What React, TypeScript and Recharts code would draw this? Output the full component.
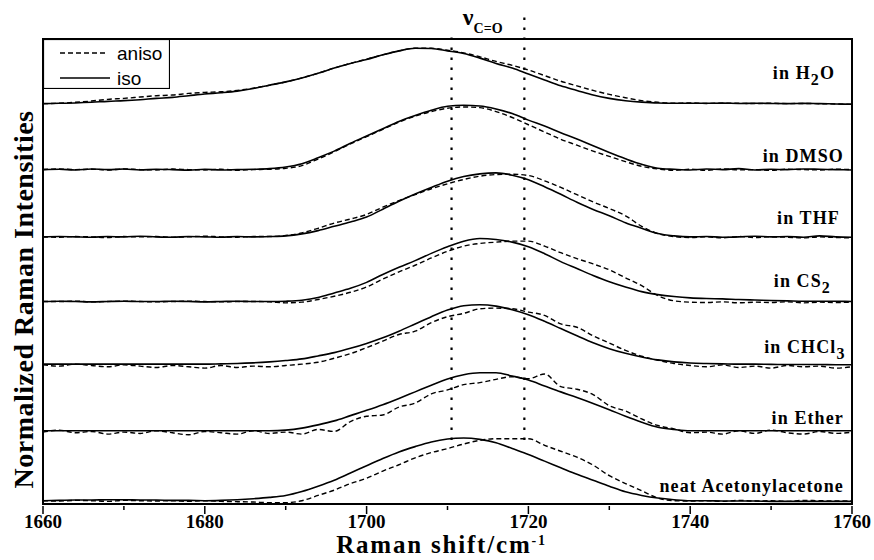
import {
  LineChart,
  Line,
  XAxis,
  YAxis,
  ReferenceLine,
  ReferenceArea,
  ReferenceDot,
  Legend,
} from 'recharts'

// Raman shift grid (cm-1)
const shift = [
  1660, 1662, 1664, 1666, 1668, 1670, 1672, 1674, 1676, 1678,
  1680, 1682, 1684, 1686, 1688, 1690, 1692, 1694, 1696, 1698,
  1700, 1702, 1704, 1706, 1708, 1710, 1712, 1714, 1716, 1718,
  1720, 1722, 1724, 1726, 1728, 1730, 1732, 1734, 1736, 1738,
  1740, 1742, 1744, 1746, 1748, 1750, 1752, 1754, 1756, 1758,
  1760,
]
const shiftTicks = [1660, 1670, 1680, 1690, 1700, 1710, 1720, 1730, 1740, 1750, 1760]

// normalized intensities, each trace relative to its own baseline
const h2oIso = [0, 0.5, 1, 2, 3.5, 4.5, 6, 8, 9.5, 12, 14.5, 16.5, 19, 23, 28, 33, 39, 46, 54, 61, 67, 74, 80, 84, 83.5, 80, 76, 69, 61, 54, 45, 36, 27, 20, 13, 8, 4.5, 2.3, 1, 0.7, 0.7, 0.5, 0.8, 0.3, 0.6, 0.3, 0, 0.4, 0, -0.5, -1]
const h2oAniso = [0, 0.5, 2, 4, 6.5, 8, 10, 12, 13, 15.5, 17, 18, 20, 23.5, 28, 33, 39, 46, 54, 61, 67.5, 74, 80, 84, 84, 81, 77, 71, 64, 58, 51, 42.5, 34, 27, 20, 14, 9, 4.5, 2, 0.7, 1, 0.3, 0.8, 0.5, 0.2, 0.6, 0, 0.3, -0.2, -0.5, -1]
const dmsoIso = [0, 0.5, -0.5, 1, 0, 0.8, -0.5, 0.5, 0, -0.8, 0.5, -0.5, 0, 0.5, 1.5, 4, 9, 18, 28, 40, 51, 62, 73, 82, 90, 96, 97.5, 96.5, 92, 85, 75, 66, 56, 46.5, 36, 26, 16.5, 8, 2, 0.5, -0.5, 1, 0, 1.5, -0.5, 0.5, 0, 1, 0.5, 0, -0.5]
const dmsoAniso = [0, 1, 0, 0.5, -0.5, 1, 0, -0.5, 0.8, 0, -0.5, 0.5, -1, 0, 0.5, 2, 6, 16, 27, 39, 50, 61, 72, 81, 88, 93, 95, 94, 88, 79, 68, 57, 46, 37, 28, 20, 12, 5, 1, -1, 0.5, -1, 1, -0.5, 0, -1, 0.5, 0, -0.5, 0.5, 0]
const thfIso = [0, 0.5, 0, -0.5, 0.5, 0, 1, 0, -0.5, 0.5, 0, -0.5, 0.5, 0, 0.5, 1.5, 4.5, 9.5, 16, 22.5, 30, 42, 54, 65, 75, 84.5, 91.5, 95.5, 97, 93.5, 86.5, 76, 64.5, 52.5, 41.5, 32, 21.5, 13, 5, 1.5, 0, 0.5, -0.5, 0, 1, 0, 0.5, -0.5, 1.5, 0, -0.5]
const thfAniso = [0, -0.5, 0.5, 0, -1, 0.5, 0, 0.5, -0.5, 0, 1, 0, -0.5, 0.5, 0.5, 2, 6, 13, 21, 27, 34, 45, 55, 64, 73, 80.5, 87, 92, 94.5, 95, 93, 85, 75, 64, 53, 43, 32, 16, 5, 0.5, -1, 0, -1.5, 0.5, -1, 0, -0.5, -1.5, 0, -1, -1.5]
const cs2Iso = [0, 0.5, 0, -0.5, 0, 0.5, 0, 0, 0.5, 0, -0.5, 0, 0.5, 0, 0, 0.5, 2, 6, 13, 20, 29, 41, 52, 62, 73, 83, 91.5, 95.5, 94, 90, 83, 72.5, 60.5, 50, 39.5, 30, 22, 15, 10.5, 7.5, 5.5, 4.5, 4, 3, 2.3, 1.5, 1, 0.5, 0.5, 0.3, 0]
const cs2Aniso = [0, 0, 0.5, -0.5, 0, 0.5, 0, -0.5, 0, 0.5, 0, -0.5, 0, 0, -0.5, -2, -1, 3, 8, 14, 22, 34, 45, 55, 66, 76, 84, 88, 90, 91.5, 91.5, 84, 74, 65, 57, 48, 36, 24, 9, 1, -1, -1.5, -0.5, -2, -1, -1.5, -0.5, -2, -1, -1.5, -1]
const chcl3Iso = [0, 0, 0, 0, 0, 0, 0, 0, 0, 0, 0, 0.5, 1, 2, 3.5, 5.5, 8, 12.5, 17.5, 24, 31.5, 40, 50, 61, 72, 82, 88.5, 90, 88, 82.5, 75, 65, 54, 43, 32.5, 23.5, 16.5, 11, 6.5, 3.5, 1.8, 1, 0.5, 0, 0, -0.3, -0.5, -0.5, -0.6, -0.8, -0.8]
const chcl3Aniso = [-1, -3, 0, -2, -4, -1, -3, -5, -2, -4, -6, -2, -5, -3, -4, -2, 0, 3, 9, 16, 25, 35, 45, 50, 63, 72, 77, 84, 85, 84, 79, 74, 61, 56, 43, 32, 21, 12, 6, 1, -2, -4, -1, -5, -3, -6, -2, -4, -3, -6, -4]
const etherIso = [0, 0, 0, 0, 0, 0, 0, 0, 0, 0, 0, 0, 0, 0, 0, 1, 4, 9, 15, 23, 31, 39.5, 49, 59, 69, 78.5, 85, 88, 88, 83, 77, 68, 59, 50.5, 41.5, 32, 22, 13, 5.5, 2, 0, 0, 0, 0, 0, 0, 0, 0, 0, 0, 0]
const etherAniso = [-2, 1, -3, -1, -5, -2, -4, 0, -3, -6, -1, -3, -5, 0, -4, -2, -5, 2, -1, 14, 22, 24, 36, 42, 56, 62, 70, 73, 78, 82, 79, 86, 67, 63, 55, 38, 30, 18, 8, 3, -3, -2, -5, 0, -4, 1, -3, -5, -1, -4, -2]
const neatIso = [0, 0.5, 1, 1, 1.5, 1.5, 1, 1, 0.5, 0.5, 0, 0.5, 1.5, 3, 5, 8, 14, 22, 31, 42, 53, 64, 74, 82, 89, 93.5, 95, 93, 88, 79, 70, 60, 50, 40, 31, 22, 13.5, 8, 4, 1.5, 0, 0, -0.5, -0.5, -0.5, -1, -1, -1, -1, -1, -1]
const neatAniso = [0, -0.5, 0.5, 0, -1, 0.5, 0, -0.5, 0, -1, 0, -1, -1.5, -2, -3, -3, 0, 8, 16, 26, 34, 45, 54.5, 65, 73, 79, 86, 91.5, 94, 94, 94, 84, 75, 66, 54, 38, 26, 15, 4, 0, -0.5, 0, -1, 0.5, -0.5, 0, -1, 0.5, 0, -0.5, 0]

// vertical stacking offsets of the traces
const offsets = [602, 502, 400, 302, 207, 106, 0]

// sample labels: [text, isSubscript]
const sampleLabels: [string, boolean][][] = [
  [['in H', false], ['2', true], ['O', false]],
  [['in DMSO', false]],
  [['in THF', false]],
  [['in CS', false], ['2', true]],
  [['in CHCl', false], ['3', true]],
  [['in Ether', false]],
  [['neat Acetonylacetone', false]],
]
const labelAnchors = [
  { x: 1757.9, dy: 38 },
  { x: 1759.0, dy: 12 },
  { x: 1758.5, dy: 19 },
  { x: 1757.4, dy: 22 },
  { x: 1759.2, dy: 16.5 },
  { x: 1759.0, dy: 11 },
  { x: 1759.0, dy: 13.6 },
]

const carbonylLines = [1710.5, 1719.5]

const samples = [
  { key: 'h2o', iso: h2oIso, aniso: h2oAniso },
  { key: 'dmso', iso: dmsoIso, aniso: dmsoAniso },
  { key: 'thf', iso: thfIso, aniso: thfAniso },
  { key: 'cs2', iso: cs2Iso, aniso: cs2Aniso },
  { key: 'chcl3', iso: chcl3Iso, aniso: chcl3Aniso },
  { key: 'ether', iso: etherIso, aniso: etherAniso },
  { key: 'neat', iso: neatIso, aniso: neatAniso },
]

const data = shift.map((x, i) => {
  const row: Record<string, number> = { shift: x }
  samples.forEach((s, k) => {
    row[s.key + 'Iso'] = offsets[k] + s.iso[i]
    row[s.key + 'Aniso'] = offsets[k] + s.aniso[i]
  })
  return row
})

const serif = "'Liberation Serif', 'Times New Roman', serif"
const sans = "'Liberation Sans', Arial, sans-serif"

function ShiftTick(props: any) {
  const { x, y, payload } = props
  const major = payload.value % 20 === 0
  return (
    <g>
      <line x1={x} y1={y} x2={x} y2={y + (major ? 8 : 4)} stroke='#000' strokeWidth={1.5} />
      {major && (
        <text x={x} y={y + 22} textAnchor='middle' fontFamily={serif} fontWeight='bold' fontSize={19} fill='#000'>
          {payload.value}
        </text>
      )}
    </g>
  )
}

function SampleLabel({ viewBox, parts }: any) {
  const { x, y } = viewBox
  let shifted = false
  return (
    <text x={x} y={y} textAnchor='end' fontFamily={serif} fontWeight='bold' fontSize={18} letterSpacing={1.1} fill='#000'>
      {parts.map(([t, sub]: [string, boolean], i: number) => {
        const dy = sub && !shifted ? 6 : !sub && shifted ? -6 : 0
        shifted = sub
        return (
          <tspan key={i} dy={dy} fontSize={sub ? 16 : 18}>
            {t}
          </tspan>
        )
      })}
    </text>
  )
}

function NuTitle({ viewBox }: any) {
  const { x, y } = viewBox
  return (
    <text x={x} y={y} fontFamily={serif} fontWeight='bold' fill='#000'>
      <tspan fontSize={24}>ν</tspan>
      <tspan fontSize={14} dy={8}>C=O</tspan>
    </text>
  )
}

function XTitle({ viewBox }: any) {
  const { x, y, width } = viewBox
  return (
    <text
      x={x + width / 2 - 6}
      y={y + 49}
      textAnchor='middle'
      fontFamily={serif}
      fontWeight='bold'
      fontSize={25}
      letterSpacing={1.8}
      fill='#000'
    >
      Raman shift/cm
      <tspan fontSize={14} dy={-8}>-1</tspan>
    </text>
  )
}

function YTitle({ viewBox }: any) {
  const { x, y, height } = viewBox
  const cx = x + 33
  const cy = y + height / 2 + 28
  return (
    <text
      x={cx}
      y={cy}
      transform={`rotate(-90 ${cx} ${cy})`}
      textAnchor='middle'
      fontFamily={serif}
      fontWeight='bold'
      fontSize={28}
      letterSpacing={0.5}
      fill='#000'
    >
      Normalized Raman Intensities
    </text>
  )
}

function LegendBox() {
  return (
    <svg width={127} height={50} style={{ display: 'block' }}>
      <rect x={0.5} y={0.5} width={126} height={49} fill='#fff' stroke='#000' strokeWidth={1.2} />
      <line x1={17} y1={14} x2={65} y2={14} stroke='#000' strokeWidth={1.5} strokeDasharray='5 3' />
      <text x={74} y={21} fontFamily={sans} fontSize={19} fill='#000'>aniso</text>
      <line x1={17} y1={39} x2={67} y2={39} stroke='#000' strokeWidth={1.6} />
      <text x={74} y={46} fontFamily={sans} fontSize={19} fill='#000'>iso</text>
    </svg>
  )
}

export default function App() {
  return (
    <div style={{ position: 'absolute', left: 0, top: 0, background: '#fff' }}>
      <LineChart width={874} height={560} data={data} margin={{ top: 39, right: 22, bottom: 26, left: 0 }}>
        <XAxis
          dataKey='shift'
          type='number'
          domain={[1660, 1760]}
          ticks={shiftTicks}
          interval={0}
          allowDataOverflow
          height={30}
          tickSize={0}
          tickLine={false}
          axisLine={{ stroke: '#000', strokeWidth: 2 }}
          tick={(p: any) => <ShiftTick {...p} />}
          label={(p: any) => <XTitle {...p} />}
        />
        <YAxis
          type='number'
          domain={[-5, 700]}
          allowDataOverflow
          width={43}
          tick={false}
          tickLine={false}
          axisLine={false}
          label={(p: any) => <YTitle {...p} />}
        />
        <Legend
          layout='vertical'
          align='center'
          verticalAlign='middle'
          wrapperStyle={{ left: 43, top: 39, width: 127, height: 50 }}
          content={() => <LegendBox />}
        />
        {carbonylLines.map((x, i) => (
          <ReferenceLine
            key={x}
            segment={[
              { x, y: 92 },
              { x, y: i === 0 ? 709 : 739 },
            ]}
            ifOverflow='visible'
            stroke='#000'
            strokeWidth={2.2}
            strokeDasharray='2.5 7.5'
          />
        ))}
        {samples.map((s) => (
          <Line
            key={s.key + 'Aniso'}
            type='monotone'
            dataKey={s.key + 'Aniso'}
            name='aniso'
            stroke='#000'
            strokeWidth={1.4}
            strokeDasharray='5 3'
            dot={false}
            activeDot={false}
            isAnimationActive={false}
          />
        ))}
        {samples.map((s) => (
          <Line
            key={s.key + 'Iso'}
            type='monotone'
            dataKey={s.key + 'Iso'}
            name='iso'
            stroke='#000'
            strokeWidth={1.6}
            dot={false}
            activeDot={false}
            isAnimationActive={false}
          />
        ))}
        {samples.map((s, k) => (
          <ReferenceDot
            key={s.key + 'Label'}
            x={labelAnchors[k].x}
            y={offsets[k] + labelAnchors[k].dy}
            r={0}
            fill='none'
            stroke='none'
            ifOverflow='visible'
            label={(p: any) => <SampleLabel {...p} parts={sampleLabels[k]} />}
          />
        ))}
        <ReferenceDot
          x={1711.9}
          y={721}
          r={0}
          fill='none'
          stroke='none'
          ifOverflow='visible'
          label={(p: any) => <NuTitle {...p} />}
        />
        <ReferenceArea
          x1={1660}
          x2={1760}
          y1={-5}
          y2={700}
          fill='none'
          stroke='#000'
          strokeWidth={2}
          ifOverflow='visible'
        />
      </LineChart>
    </div>
  )
}
